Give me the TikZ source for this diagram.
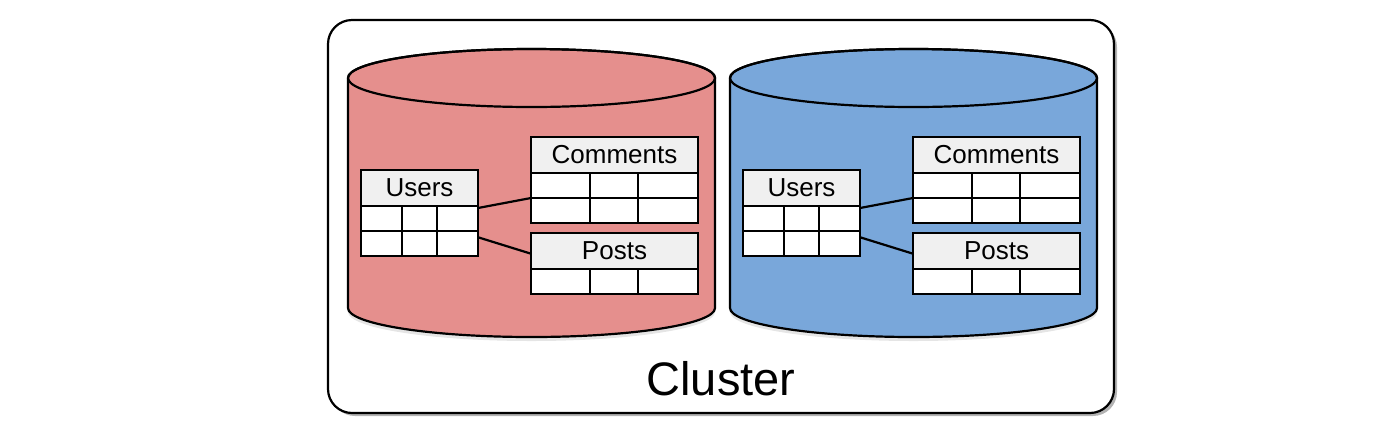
\documentclass[tikz,border=0pt]{standalone}
\usepackage{fontspec}
\setmainfont{Liberation Sans}
\usetikzlibrary{shadows,calc}

\definecolor{shardred}{RGB}{229,143,141}
\definecolor{shardblue}{RGB}{121,167,218}

\tikzset{
  tblhead/.style={draw=black, line width=0.7pt, fill=black!6, inner sep=0pt, outer sep=0pt,
    font=\fontsize{13}{15}\selectfont},
  tblrow/.style={draw=black, line width=0.7pt, fill=white, inner sep=0pt, outer sep=0pt},
  link/.style={line width=1.1pt},
  shard/.style={draw=black, line width=1.1pt},
}

% name, left, top, width, label, rows, column lines
\newcommand{\dbtable}[7]{%
  \node[tblhead, anchor=north west, minimum width={#4*0.5pt}, minimum height=18pt] (#1-h) at (#2,-#3) {#5};
  \foreach \r in {1,...,#6}
    \node[tblrow, anchor=north west, minimum width={#4*0.5pt}, minimum height=12.5pt] (#1-r\r) at (#2,{-#3-36-(\r-1)*25}) {};
  \foreach \c in {#7}
    \draw[line width=0.7pt] ({#2+\c},{-#3-36}) -- ({#2+\c},{-#3-36-#6*25});
}

% prefix, x offset, colour
\newcommand{\shard}[3]{%
  \begin{scope}[xshift={#2*0.5pt}]
    \path[shard, fill=#3, drop shadow={shadow xshift=0pt, shadow yshift=-2pt, opacity=0.2}]
      (348,-78) -- (348,-308) arc[start angle=180, end angle=360, x radius=183.5, y radius=29]
      -- (715,-78) arc[start angle=0, end angle=180, x radius=183.5, y radius=29] -- cycle;
    \draw[shard] (531.5,-78) ellipse [x radius=183.5, y radius=29];
    \dbtable{#1-users}{361}{170}{117}{Users}{2}{41,76}
    \dbtable{#1-comments}{531}{137}{167}{Comments}{2}{59,107}
    \dbtable{#1-posts}{531}{233}{167}{Posts}{1}{59,107}
    \draw[link] ($(#1-users-r1.north east)!0.08!(#1-users-r1.south east)$) -- (#1-comments-r1.south west);
    \draw[link] ($(#1-users-r2.north east)!0.25!(#1-users-r2.south east)$) -- ($(#1-posts-h.west)!0.15!(#1-posts-h.south west)$);
  \end{scope}
}

\begin{document}
\begin{tikzpicture}[x=0.5pt, y=0.5pt]
  \useasboundingbox (0,0) rectangle (1400,-440);

  % cluster box
  \draw[line width=1.1pt, rounded corners=12pt, fill=white,
    drop shadow={shadow xshift=1.5pt, shadow yshift=-1.5pt, opacity=0.6}]
    (328,-20) rectangle (1114,-413);
  \node[font=\fontsize{23.5}{28}\selectfont, anchor=base] (cluster) at (721,-395) {Cluster};

  % the two shards
  \shard{red}{0}{shardred}
  \shard{blue}{382}{shardblue}
\end{tikzpicture}
\end{document}
